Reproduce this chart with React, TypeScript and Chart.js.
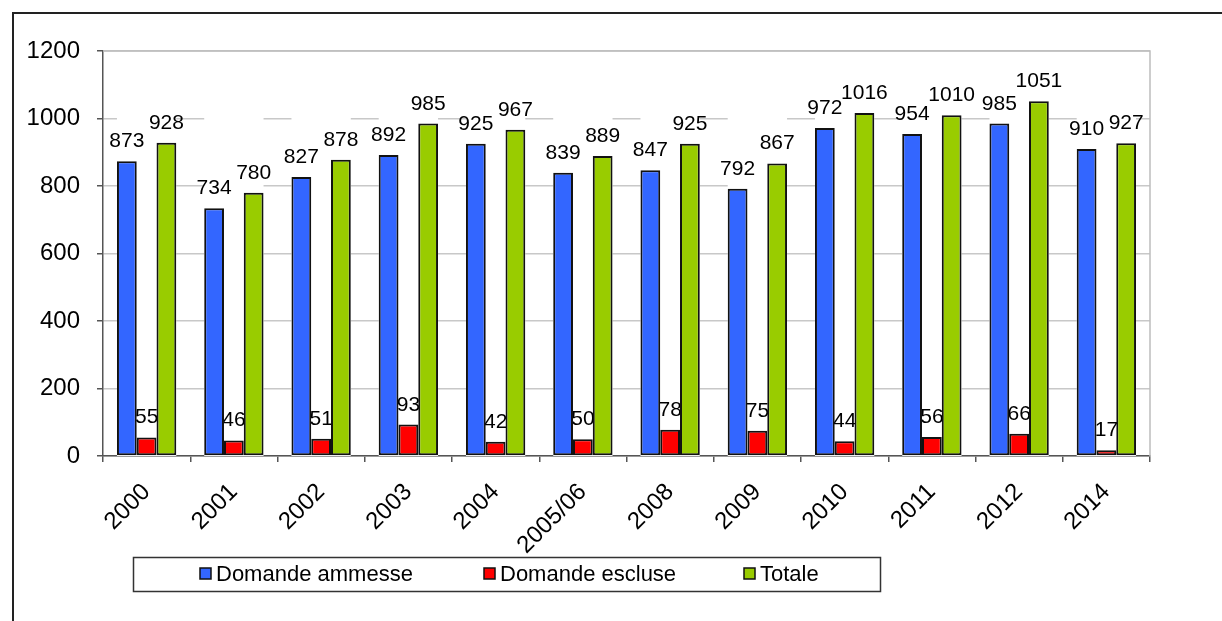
import React, { useEffect, useRef } from "react";
import { Chart, registerables } from "chart.js";

Chart.register(...registerables);

const categories = ["2000", "2001", "2002", "2003", "2004", "2005/06", "2008", "2009", "2010", "2011", "2012", "2014"];
const ammesse = [873, 734, 827, 892, 925, 839, 847, 792, 972, 954, 985, 910];
const escluse = [55, 46, 51, 93, 42, 50, 78, 75, 44, 56, 66, 17];
const totale = [928, 780, 878, 985, 967, 889, 925, 867, 1016, 1010, 1051, 927];
const seriesNames = ["Domande ammesse", "Domande escluse", "Totale"];
const yTicks = [0, 200, 400, 600, 800, 1000, 1200];

const FONT = "'Liberation Sans', Arial, sans-serif";

const decorPlugin = {
  id: "decor",
  beforeDatasetsDraw(chart: any) {
    const { ctx, chartArea } = chart;
    ctx.save();
    const m0 = chart.getDatasetMeta(0).data;
    const m2 = chart.getDatasetMeta(2).data;
    ctx.fillStyle = "#ffffff";
    for (let i = 0; i < m0.length; i++) {
      const l = m0[i].x - m0[i].width / 2;
      const r = m2[i].x + m2[i].width / 2;
      ctx.fillRect(l, chartArea.top + 1, r - l, chartArea.bottom - chartArea.top - 1);
    }
    ctx.strokeStyle = "#bdbdbd";
    ctx.lineWidth = 1.5;
    ctx.beginPath();
    ctx.moveTo(chartArea.left, chartArea.top);
    ctx.lineTo(chartArea.right, chartArea.top);
    ctx.lineTo(chartArea.right, chartArea.bottom);
    ctx.stroke();
    ctx.fillStyle = "#000";
    ctx.font = `21px ${FONT}`;
    ctx.textAlign = "center";
    ctx.textBaseline = "alphabetic";
    chart.data.datasets.forEach((ds: any, di: number) => {
      const meta = chart.getDatasetMeta(di);
      meta.data.forEach((bar: any, i: number) => {
        ctx.fillText(String(ds.data[i]), bar.x, bar.y - 14);
      });
    });
    ctx.restore();
  },
  afterDraw(chart: any) {
    const { ctx } = chart;
    ctx.save();
    ctx.strokeStyle = "#222";
    ctx.lineWidth = 2;
    ctx.beginPath();
    ctx.moveTo(13, 621);
    ctx.lineTo(13, 13);
    ctx.lineTo(1222, 13);
    ctx.stroke();
    ctx.strokeStyle = "#333";
    ctx.lineWidth = 1.5;
    ctx.strokeRect(133.5, 557.5, 747, 34);
    const itemX = [200, 484, 744];
    ctx.font = `22px ${FONT}`;
    ctx.textAlign = "left";
    ctx.textBaseline = "middle";
    chart.data.datasets.forEach((ds: any, di: number) => {
      const x = itemX[di];
      ctx.fillStyle = ds.backgroundColor;
      ctx.fillRect(x, 568, 11, 11);
      ctx.strokeStyle = "#111";
      ctx.lineWidth = 1.5;
      ctx.strokeRect(x, 568, 11, 11);
      ctx.fillStyle = "#000";
      ctx.fillText(ds.label, x + 16, 575);
    });
    ctx.restore();
  },
};

export default function App() {
  const ref = useRef<HTMLCanvasElement>(null);
  useEffect(() => {
    document.body.style.margin = "0";
    const canvas = ref.current;
    if (!canvas) return;
    const chart = new Chart(canvas, {
      type: "bar",
      data: {
        labels: categories,
        datasets: [
          { label: seriesNames[0], data: ammesse, backgroundColor: "#3366ff", borderColor: "#111", borderWidth: 2, borderSkipped: false },
          { label: seriesNames[1], data: escluse, backgroundColor: "#ff0000", borderColor: "#111", borderWidth: 2, borderSkipped: false },
          { label: seriesNames[2], data: totale, backgroundColor: "#99cc00", borderColor: "#111", borderWidth: 2, borderSkipped: false },
        ],
      },
      options: {
        responsive: false,
        animation: false,
        layout: { padding: { left: 0, top: 51, right: 72, bottom: 0 } },
        datasets: { bar: { categoryPercentage: 0.68, barPercentage: 1.0 } },
        plugins: { legend: { display: false }, tooltip: { enabled: false } },
        scales: {
          x: {
            grid: { offset: true, drawOnChartArea: false, drawTicks: true, tickLength: 6, tickColor: "#555", lineWidth: 1.5 },
            border: { color: "#555", width: 1.5 },
            ticks: {
              font: { family: FONT, size: 24 },
              color: "#000",
              minRotation: 45,
              maxRotation: 45,
              autoSkip: false,
              padding: 16,
            },
            afterFit: (s: any) => { s.height = 165; },
          },
          y: {
            min: 0,
            max: 1200,
            afterBuildTicks: (s: any) => { s.ticks = yTicks.map((v) => ({ value: v })); },
            ticks: { font: { family: FONT, size: 24 }, color: "#000", padding: 17, callback: (v: any) => String(v) },
            grid: { color: "#c8c8c8", lineWidth: 1.5, tickColor: "#555", tickLength: 6 },
            border: { color: "#555", width: 1.5 },
            afterFit: (s: any) => { s.width = 103; },
          },
        },
      },
      plugins: [decorPlugin],
    });
    return () => chart.destroy();
  }, []);
  return (
    <div style={{ width: 1222, height: 621, background: "#fff" }}>
      <canvas ref={ref} width={1222} height={621} style={{ display: "block", width: 1222, height: 621 }} />
    </div>
  );
}
